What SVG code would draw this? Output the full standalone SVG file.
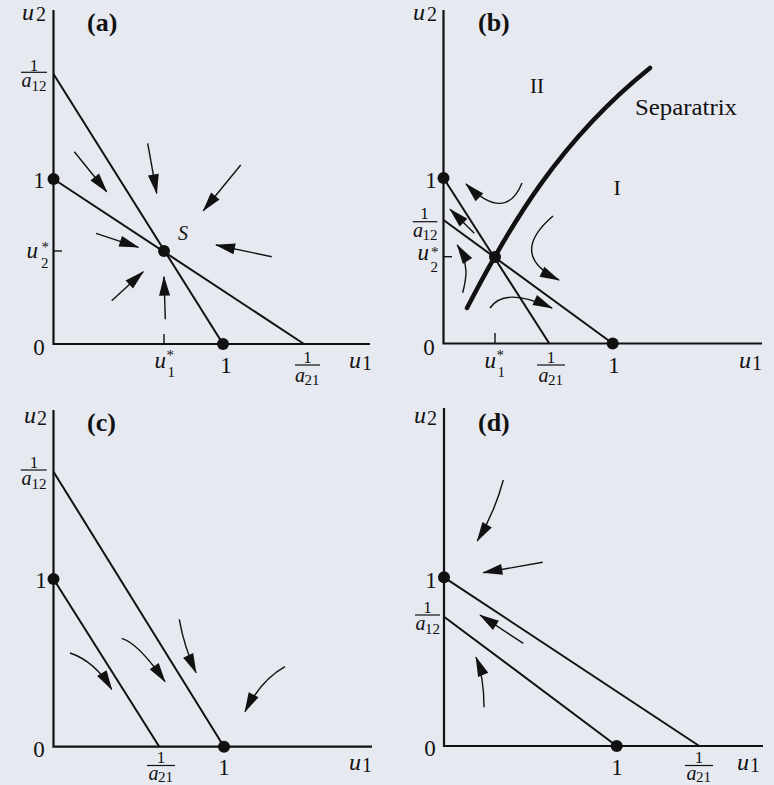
<svg xmlns="http://www.w3.org/2000/svg" width="774" height="785" viewBox="0 0 774 785" font-family="'Liberation Serif','Times New Roman',serif">
<defs>
<style>
.bg{fill:#e7e9f1}
.ax{stroke:#111;stroke-width:2.2;fill:none}
.ln{stroke:#111;stroke-width:2;fill:none}
.sep{stroke:#111;stroke-width:4.5;fill:none;stroke-linecap:round}
.tk{stroke:#111;stroke-width:1.4}
.bar{stroke:#111;stroke-width:1.2}
.ar{stroke:#111;stroke-width:1.4;fill:none;marker-end:url(#ah)}
.dot{fill:#111}
text{font-family:'Liberation Serif','Times New Roman',serif;fill:#111}
.it{font-style:italic;font-size:24px}
.ui{font-style:italic;font-size:23px}
.sb{font-size:15px}
.ax1{font-size:20px}
.num{font-size:23px;text-anchor:middle}
.f1{font-size:17px;text-anchor:middle}
.fa{font-style:italic;font-size:20px}
.ttl{font-weight:bold;font-size:26px}
.rm{font-size:21px}
</style>
<marker id="ah" markerUnits="userSpaceOnUse" markerWidth="20" markerHeight="11" viewBox="0 0 20 11" refX="19" refY="5.5" orient="auto" overflow="visible">
<path d="M0,0 L20,5.5 L0,11 Z" fill="#111"/>
</marker>
</defs>
<rect class="bg" x="0" y="0" width="774" height="785"/>

<!-- Panel (a) -->
<g id="panel-a">
<g id="a-axes">
<path class="ax" d="M53.5,10 V344 H370"/>
<line class="tk" x1="53.5" y1="251" x2="62" y2="251"/>
<line class="tk" x1="164" y1="344" x2="164" y2="334"/>
</g>
<g id="a-lines">
<line class="ln" x1="53.5" y1="74" x2="223" y2="344"/>
<line class="ln" x1="53.5" y1="179" x2="304" y2="344"/>
</g>
<g id="a-connectors">
<path class="ar" d="M74.3,151.7 L106.7,191.7"/>
<path class="ar" d="M147.7,143.3 L156.7,193.3"/>
<path class="ar" d="M240.7,165 L203.3,210.7"/>
<path class="ar" d="M96,233.3 L138.3,247.3"/>
<path class="ar" d="M271.7,256.7 L216,245"/>
<path class="ar" d="M111.7,300.7 L143.3,271.7"/>
<path class="ar" d="M165.3,319.3 L164,276.7"/>
</g>
<g id="a-node-y1"><circle class="dot" cx="53.5" cy="179" r="6"/></g>
<g id="a-node-S"><circle class="dot" cx="164" cy="251" r="6"/></g>
<g id="a-node-x1"><circle class="dot" cx="223" cy="344" r="6"/></g>
<g id="a-labels">
<text class="ttl" x="87" y="31">(a)</text>
<text class="it" x="22" y="20">u</text><text class="ax1" x="36" y="21">2</text>
<text class="f1" x="34" y="70.5">1</text><line class="bar" x1="21" y1="72.3" x2="47" y2="72.3"/>
<text class="fa" x="21.5" y="87">a</text><text class="sb" x="31.5" y="90.5">12</text>
<text class="num" x="39" y="188">1</text>
<text class="ui" x="26.5" y="258">u</text><text class="sb" x="41.5" y="252">*</text><text class="sb" x="41" y="268">2</text>
<text class="num" x="39" y="355">0</text>
<text class="ui" x="154.5" y="368">u</text><text class="sb" x="166.5" y="360">*</text><text class="sb" x="167.5" y="377">1</text>
<text class="num" x="226" y="373">1</text>
<text class="f1" x="307.5" y="363">1</text><line class="bar" x1="295" y1="365" x2="320" y2="365"/>
<text class="fa" x="295" y="381.5">a</text><text class="sb" x="304.5" y="384.5">21</text>
<text class="it" x="349" y="368">u</text><text class="ax1" x="362" y="370">1</text>
<text class="ui" x="178" y="239.5" style="font-size:20px">S</text>
</g>
</g>

<!-- Panel (b) -->
<g id="panel-b">
<g id="b-axes">
<path class="ax" d="M443.5,10 V343.5 H762"/>
<line class="tk" x1="443.5" y1="256.7" x2="452" y2="256.7"/>
<line class="tk" x1="495" y1="343.5" x2="495" y2="333"/>
</g>
<g id="b-lines">
<line class="ln" x1="443.5" y1="178" x2="549.3" y2="343.5"/>
<line class="ln" x1="443.5" y1="220" x2="612.7" y2="343.5"/>
<path class="sep" d="M467,308 C510,225 560,140 650,68"/>
</g>
<g id="b-connectors">
<path class="ar" d="M522,183 C512,208 494,212 466,184"/>
<path class="ar" d="M474.3,233.3 L450,209.3"/>
<path class="ar" d="M462.7,292.7 C466,280 470,265 457.3,245"/>
<path class="ar" d="M553,216 C525,240 522,262 559,280"/>
<path class="ar" d="M490,308 C498,296 515,291 552,308"/>
</g>
<g id="b-node-y1"><circle class="dot" cx="443.5" cy="178" r="6"/></g>
<g id="b-node-saddle"><circle class="dot" cx="495" cy="257" r="6"/></g>
<g id="b-node-x1"><circle class="dot" cx="612.7" cy="343.5" r="6"/></g>
<g id="b-labels">
<text class="ttl" x="478" y="31">(b)</text>
<text class="it" x="413" y="20">u</text><text class="ax1" x="427" y="21">2</text>
<text class="rm" x="530" y="93">II</text>
<text x="635" y="115" style="font-size:24px" textLength="102" lengthAdjust="spacingAndGlyphs">Separatrix</text>
<text class="rm" x="613.5" y="195" style="font-size:22px">I</text>
<text class="num" x="431" y="188">1</text>
<text class="f1" x="424.5" y="219">1</text><line class="bar" x1="412.7" y1="221.7" x2="437.3" y2="221.7"/>
<text class="fa" x="413" y="236.7">a</text><text class="sb" x="422.5" y="240">12</text>
<text class="ui" x="417.5" y="260">u</text><text class="sb" x="431" y="256.5">*</text><text class="sb" x="430.5" y="271.5">2</text>
<text class="num" x="429" y="355">0</text>
<text class="ui" x="484.5" y="368">u</text><text class="sb" x="496.5" y="360">*</text><text class="sb" x="497.5" y="377">1</text>
<text class="f1" x="551" y="363">1</text><line class="bar" x1="537" y1="365" x2="565" y2="365"/>
<text class="fa" x="538.5" y="381.5">a</text><text class="sb" x="548" y="384.5">21</text>
<text class="num" x="614" y="373">1</text>
<text class="it" x="739" y="368">u</text><text class="ax1" x="752" y="370">1</text>
</g>
</g>

<!-- Panel (c) -->
<g id="panel-c">
<g id="c-axes">
<path class="ax" d="M53.5,410 V746.7 H372"/>
</g>
<g id="c-lines">
<line class="ln" x1="53.5" y1="471.7" x2="224" y2="746.7"/>
<line class="ln" x1="53.5" y1="579" x2="159.3" y2="746.7"/>
</g>
<g id="c-connectors">
<path class="ar" d="M70,653 C85,658 100,670 111.7,689.3"/>
<path class="ar" d="M121.7,638.3 C135,642 150,660 165,681.7"/>
<path class="ar" d="M179.3,619.3 C182,635 188,655 196,672.7"/>
<path class="ar" d="M285,666.7 C268,676 255,692 245,711.7"/>
</g>
<g id="c-node-y1"><circle class="dot" cx="53.5" cy="579" r="6"/></g>
<g id="c-node-x1"><circle class="dot" cx="224" cy="746.7" r="6"/></g>
<g id="c-labels">
<text class="ttl" x="87" y="431">(c)</text>
<text class="it" x="24" y="423">u</text><text class="ax1" x="37" y="425">2</text>
<text class="f1" x="34" y="468">1</text><line class="bar" x1="20.7" y1="470" x2="46.7" y2="470"/>
<text class="fa" x="21.5" y="485">a</text><text class="sb" x="31.5" y="488.5">12</text>
<text class="num" x="41" y="588">1</text>
<text class="num" x="39" y="757">0</text>
<text class="f1" x="161" y="763">1</text><line class="bar" x1="147" y1="765.5" x2="175" y2="765.5"/>
<text class="fa" x="148.5" y="780">a</text><text class="sb" x="158" y="782">21</text>
<text class="num" x="224" y="775">1</text>
<text class="it" x="349" y="770">u</text><text class="ax1" x="362" y="772">1</text>
</g>
</g>

<!-- Panel (d) -->
<g id="panel-d">
<g id="d-axes">
<path class="ax" d="M444,408 V746 H763"/>
</g>
<g id="d-lines">
<line class="ln" x1="444" y1="577.3" x2="699.3" y2="746"/>
<line class="ln" x1="444" y1="616.7" x2="616.7" y2="746"/>
</g>
<g id="d-connectors">
<path class="ar" d="M503.3,480 C498,500 490,520 477.3,541"/>
<path class="ar" d="M542.7,562.3 L483.3,572.7"/>
<path class="ar" d="M523.3,643.3 L480,615"/>
<path class="ar" d="M484,707.3 C484,690 482,672 476,657.3"/>
</g>
<g id="d-node-y1"><circle class="dot" cx="444" cy="577.3" r="6"/></g>
<g id="d-node-x1"><circle class="dot" cx="616.7" cy="746" r="6"/></g>
<g id="d-labels">
<text class="ttl" x="478" y="431">(d)</text>
<text class="it" x="414" y="423">u</text><text class="ax1" x="427" y="425">2</text>
<text class="num" x="431" y="588">1</text>
<text class="f1" x="427.5" y="612.5">1</text><line class="bar" x1="415" y1="615" x2="440" y2="615"/>
<text class="fa" x="415.5" y="630">a</text><text class="sb" x="425" y="633.5">12</text>
<text class="num" x="430" y="756">0</text>
<text class="num" x="617" y="775">1</text>
<text class="f1" x="699" y="763">1</text><line class="bar" x1="685" y1="765.5" x2="713" y2="765.5"/>
<text class="fa" x="686.5" y="780">a</text><text class="sb" x="696" y="782">21</text>
<text class="it" x="737" y="770">u</text><text class="ax1" x="750" y="772">1</text>
</g>
</g>
</svg>
